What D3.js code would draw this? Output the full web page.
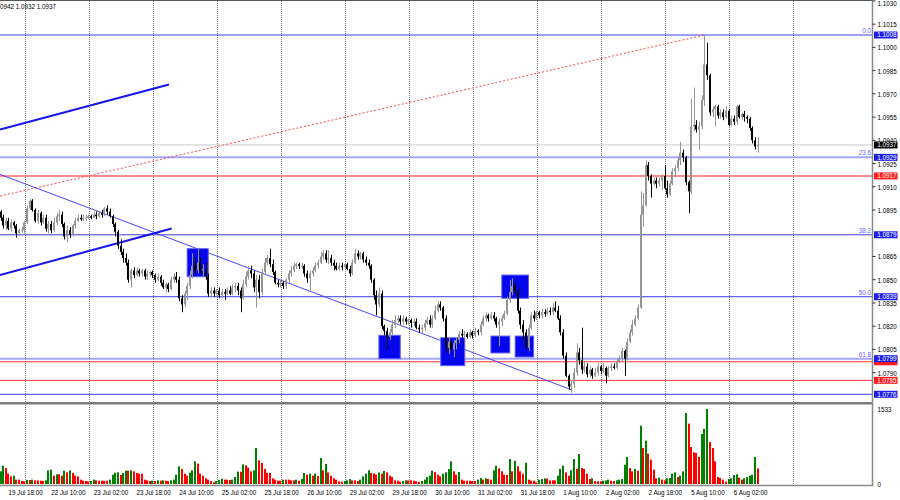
<!DOCTYPE html>
<html><head><meta charset="utf-8">
<script src="https://cdn.jsdelivr.net/npm/d3@7"></script>
<style>html,body{margin:0;padding:0;background:#fff;overflow:hidden}svg{display:block}text{font-family:"Liberation Sans",Arial,sans-serif}</style>
</head><body>
<svg id="c" width="900" height="500"></svg>
<script>
// ---- data (EURUSD H1, 19 Jul 15:00 .. 6 Aug 11:00) ----
const open=[1.0894,1.0890,1.0885,1.0888,1.0883,1.0887,1.0885,1.0880,1.0882,1.0882,
1.0887,1.0896,1.0901,1.0895,1.0888,1.0893,1.0887,1.0890,1.0883,1.0886,
1.0882,1.0887,1.0891,1.0892,1.0886,1.0878,1.0882,1.0879,1.0885,1.0888,
1.0890,1.0889,1.0890,1.0890,1.0891,1.0890,1.0892,1.0891,1.0893,1.0892,
1.0896,1.0894,1.0891,1.0886,1.0881,1.0872,1.0868,1.0864,1.0861,1.0850,
1.0856,1.0853,1.0856,1.0854,1.0856,1.0852,1.0854,1.0855,1.0853,1.0850,
1.0852,1.0848,1.0845,1.0847,1.0844,1.0850,1.0852,1.0850,1.0838,1.0834,
1.0841,1.0846,1.0853,1.0859,1.0856,1.0861,1.0856,1.0857,1.0852,1.0841,
1.0843,1.0841,1.0843,1.0840,1.0842,1.0841,1.0843,1.0841,1.0845,1.0846,
1.0843,1.0838,1.0847,1.0852,1.0856,1.0854,1.0845,1.0850,1.0842,1.0855,
1.0861,1.0864,1.0860,1.0855,1.0848,1.0847,1.0848,1.0846,1.0850,1.0854,
1.0856,1.0859,1.0860,1.0859,1.0859,1.0854,1.0851,1.0854,1.0856,1.0859,
1.0861,1.0865,1.0867,1.0863,1.0864,1.0861,1.0859,1.0857,1.0859,1.0858,
1.0860,1.0857,1.0854,1.0861,1.0867,1.0865,1.0867,1.0863,1.0861,1.0859,
1.0850,1.0840,1.0834,1.0841,1.0820,1.0817,1.0813,1.0816,1.0821,1.0824,
1.0825,1.0823,1.0825,1.0823,1.0824,1.0822,1.0823,1.0819,1.0818,1.0819,
1.0822,1.0824,1.0821,1.0825,1.0830,1.0834,1.0832,1.0825,1.0806,1.0810,
1.0805,1.0809,1.0811,1.0815,1.0814,1.0815,1.0813,1.0816,1.0814,1.0817,
1.0816,1.0821,1.0825,1.0827,1.0825,1.0827,1.0825,1.0821,1.0823,1.0825,
1.0828,1.0837,1.0842,1.0846,1.0843,1.0830,1.0821,1.0816,1.0806,1.0819,
1.0827,1.0825,1.0829,1.0827,1.0829,1.0828,1.0830,1.0829,1.0832,1.0830,
1.0825,1.0816,1.0801,1.0788,1.0781,1.0783,1.0790,1.0803,1.0798,1.0792,
1.0794,1.0789,1.0792,1.0788,1.0790,1.0794,1.0791,1.0793,1.0788,1.0793,
1.0794,1.0793,1.0797,1.0799,1.0804,1.0799,1.0810,1.0816,1.0821,1.0825,
1.0832,1.0892,1.0898,1.0924,1.0917,1.0912,1.0914,1.0912,1.0914,1.0917,
1.0909,1.0905,1.0912,1.0920,1.0922,1.0927,1.0932,1.0929,1.0913,1.0907,
1.0949,1.0950,1.0947,1.0949,1.0966,1.0989,1.0982,1.0958,1.0960,1.0962,
1.0956,1.0958,1.0955,1.0959,1.0950,1.0954,1.0952,1.0962,1.0955,1.0957,
1.0955,1.0954,1.0948,1.0940,1.0936];
const high=[1.0895,1.0892,1.0890,1.0890,1.0889,1.0888,1.0886,1.0883,1.0884,1.0888,
1.0898,1.0902,1.0902,1.0896,1.0895,1.0894,1.0892,1.0892,1.0888,1.0888,
1.0890,1.0893,1.0895,1.0894,1.0887,1.0885,1.0884,1.0886,1.0890,1.0892,
1.0892,1.0892,1.0892,1.0892,1.0892,1.0894,1.0894,1.0894,1.0895,1.0897,
1.0898,1.0896,1.0892,1.0887,1.0882,1.0876,1.0870,1.0867,1.0863,1.0857,
1.0858,1.0858,1.0857,1.0857,1.0857,1.0856,1.0856,1.0856,1.0854,1.0854,
1.0853,1.0850,1.0848,1.0848,1.0852,1.0854,1.0855,1.0852,1.0840,1.0843,
1.0848,1.0856,1.0867,1.0864,1.0870,1.0864,1.0860,1.0861,1.0854,1.0845,
1.0845,1.0844,1.0845,1.0844,1.0844,1.0845,1.0846,1.0847,1.0848,1.0848,
1.0845,1.0850,1.0855,1.0859,1.0859,1.0856,1.0853,1.0853,1.0857,1.0864,
1.0866,1.0870,1.0863,1.0856,1.0850,1.0850,1.0849,1.0851,1.0856,1.0859,
1.0861,1.0861,1.0861,1.0861,1.0860,1.0856,1.0856,1.0858,1.0861,1.0863,
1.0868,1.0869,1.0869,1.0869,1.0866,1.0863,1.0861,1.0861,1.0861,1.0861,
1.0861,1.0859,1.0863,1.0870,1.0869,1.0868,1.0868,1.0865,1.0863,1.0860,
1.0851,1.0843,1.0845,1.0843,1.0821,1.0819,1.0818,1.0824,1.0827,1.0827,
1.0827,1.0827,1.0826,1.0825,1.0825,1.0825,1.0825,1.0821,1.0821,1.0824,
1.0826,1.0827,1.0827,1.0833,1.0836,1.0836,1.0833,1.0827,1.0813,1.0812,
1.0811,1.0813,1.0817,1.0818,1.0817,1.0816,1.0818,1.0817,1.0819,1.0818,
1.0823,1.0827,1.0829,1.0828,1.0829,1.0829,1.0826,1.0825,1.0827,1.0830,
1.0839,1.0850,1.0851,1.0848,1.0845,1.0832,1.0824,1.0818,1.0821,1.0829,
1.0830,1.0830,1.0830,1.0831,1.0831,1.0832,1.0832,1.0835,1.0836,1.0833,
1.0827,1.0818,1.0803,1.0789,1.0785,1.0793,1.0809,1.0806,1.0819,1.0797,
1.0796,1.0794,1.0793,1.0793,1.0796,1.0795,1.0796,1.0794,1.0794,1.0796,
1.0796,1.0799,1.0801,1.0806,1.0805,1.0812,1.0818,1.0824,1.0827,1.0834,
1.0907,1.0906,1.0927,1.0926,1.0918,1.0916,1.0916,1.0916,1.0918,1.0924,
1.0914,1.0914,1.0922,1.0924,1.0929,1.0939,1.0934,1.0930,1.0914,1.0967,
1.0974,1.0953,1.0952,1.0969,1.1008,1.1003,1.0983,1.0962,1.0963,1.0963,
1.0960,1.0960,1.0962,1.0960,1.0956,1.0956,1.0963,1.0963,1.0958,1.0959,
1.0956,1.0955,1.0949,1.0942,1.0942];
const low=[1.0888,1.0883,1.0882,1.0882,1.0881,1.0883,1.0877,1.0878,1.0880,1.0880,
1.0886,1.0895,1.0894,1.0887,1.0886,1.0885,1.0886,1.0881,1.0880,1.0880,
1.0881,1.0885,1.0888,1.0884,1.0876,1.0874,1.0877,1.0878,1.0883,1.0887,
1.0888,1.0888,1.0888,1.0889,1.0889,1.0890,1.0889,1.0890,1.0890,1.0891,
1.0892,1.0890,1.0884,1.0878,1.0870,1.0866,1.0861,1.0859,1.0848,1.0845,
1.0851,1.0852,1.0852,1.0852,1.0850,1.0850,1.0852,1.0851,1.0848,1.0849,
1.0846,1.0844,1.0842,1.0842,1.0843,1.0848,1.0848,1.0836,1.0829,1.0832,
1.0837,1.0844,1.0851,1.0854,1.0854,1.0854,1.0852,1.0850,1.0839,1.0839,
1.0839,1.0840,1.0838,1.0838,1.0837,1.0840,1.0840,1.0840,1.0842,1.0840,
1.0829,1.0837,1.0845,1.0850,1.0851,1.0842,1.0832,1.0838,1.0840,1.0853,
1.0859,1.0858,1.0853,1.0847,1.0845,1.0845,1.0844,1.0844,1.0848,1.0852,
1.0855,1.0857,1.0857,1.0857,1.0852,1.0848,1.0843,1.0852,1.0855,1.0857,
1.0860,1.0863,1.0861,1.0860,1.0859,1.0856,1.0856,1.0856,1.0856,1.0857,
1.0856,1.0852,1.0853,1.0860,1.0863,1.0863,1.0861,1.0859,1.0857,1.0848,
1.0837,1.0827,1.0832,1.0818,1.0814,1.0805,1.0811,1.0814,1.0819,1.0822,
1.0821,1.0821,1.0821,1.0821,1.0819,1.0820,1.0818,1.0816,1.0815,1.0817,
1.0821,1.0819,1.0819,1.0824,1.0829,1.0830,1.0823,1.0803,1.0802,1.0803,
1.0800,1.0805,1.0809,1.0812,1.0812,1.0812,1.0812,1.0812,1.0813,1.0814,
1.0814,1.0820,1.0823,1.0823,1.0824,1.0823,1.0819,1.0807,1.0820,1.0824,
1.0827,1.0835,1.0840,1.0841,1.0828,1.0818,1.0811,1.0805,1.0804,1.0818,
1.0823,1.0824,1.0825,1.0825,1.0826,1.0827,1.0827,1.0827,1.0829,1.0824,
1.0814,1.0799,1.0787,1.0779,1.0777,1.0780,1.0788,1.0795,1.0789,1.0790,
1.0787,1.0787,1.0786,1.0787,1.0788,1.0789,1.0790,1.0783,1.0787,1.0791,
1.0792,1.0792,1.0796,1.0797,1.0788,1.0798,1.0809,1.0814,1.0820,1.0824,
1.0831,1.0884,1.0897,1.0914,1.0903,1.0911,1.0909,1.0910,1.0908,1.0908,
1.0903,1.0904,1.0911,1.0916,1.0920,1.0924,1.0926,1.0911,1.0893,1.0905,
1.0946,1.0945,1.0934,1.0947,1.0962,1.0979,1.0956,1.0955,1.0949,1.0954,
1.0954,1.0953,1.0954,1.0949,1.0949,1.0950,1.0950,1.0954,1.0953,1.0952,
1.0951,1.0946,1.0938,1.0934,1.0932];
const close=[1.0890,1.0885,1.0888,1.0883,1.0887,1.0885,1.0880,1.0882,1.0882,1.0887,
1.0896,1.0901,1.0895,1.0888,1.0893,1.0887,1.0890,1.0883,1.0886,1.0882,
1.0887,1.0891,1.0892,1.0886,1.0878,1.0882,1.0879,1.0885,1.0888,1.0890,
1.0889,1.0890,1.0890,1.0891,1.0890,1.0892,1.0891,1.0893,1.0892,1.0896,
1.0894,1.0891,1.0886,1.0881,1.0872,1.0868,1.0864,1.0861,1.0850,1.0856,
1.0853,1.0856,1.0854,1.0856,1.0852,1.0854,1.0855,1.0853,1.0850,1.0852,
1.0848,1.0845,1.0847,1.0844,1.0850,1.0852,1.0850,1.0838,1.0834,1.0841,
1.0846,1.0853,1.0859,1.0856,1.0861,1.0856,1.0857,1.0852,1.0841,1.0843,
1.0841,1.0843,1.0840,1.0842,1.0841,1.0843,1.0841,1.0845,1.0846,1.0843,
1.0838,1.0847,1.0852,1.0856,1.0854,1.0845,1.0850,1.0842,1.0855,1.0861,
1.0864,1.0860,1.0855,1.0848,1.0847,1.0848,1.0846,1.0850,1.0854,1.0856,
1.0859,1.0860,1.0859,1.0859,1.0854,1.0851,1.0854,1.0856,1.0859,1.0861,
1.0865,1.0867,1.0863,1.0864,1.0861,1.0859,1.0857,1.0859,1.0858,1.0860,
1.0857,1.0854,1.0861,1.0867,1.0865,1.0867,1.0863,1.0861,1.0859,1.0850,
1.0840,1.0834,1.0841,1.0820,1.0817,1.0813,1.0816,1.0821,1.0824,1.0825,
1.0823,1.0825,1.0823,1.0824,1.0822,1.0823,1.0819,1.0818,1.0819,1.0822,
1.0824,1.0821,1.0825,1.0830,1.0834,1.0832,1.0825,1.0806,1.0810,1.0805,
1.0809,1.0811,1.0815,1.0814,1.0815,1.0813,1.0816,1.0814,1.0817,1.0816,
1.0821,1.0825,1.0827,1.0825,1.0827,1.0825,1.0821,1.0823,1.0825,1.0828,
1.0837,1.0842,1.0846,1.0843,1.0830,1.0821,1.0816,1.0806,1.0819,1.0827,
1.0825,1.0829,1.0827,1.0829,1.0828,1.0830,1.0829,1.0832,1.0830,1.0825,
1.0816,1.0801,1.0788,1.0781,1.0783,1.0790,1.0803,1.0798,1.0792,1.0794,
1.0789,1.0792,1.0788,1.0790,1.0794,1.0791,1.0793,1.0788,1.0793,1.0794,
1.0793,1.0797,1.0799,1.0804,1.0799,1.0810,1.0816,1.0821,1.0825,1.0832,
1.0892,1.0898,1.0924,1.0917,1.0912,1.0914,1.0912,1.0914,1.0917,1.0909,
1.0905,1.0912,1.0920,1.0922,1.0927,1.0932,1.0929,1.0913,1.0907,1.0949,
1.0950,1.0947,1.0949,1.0966,1.0989,1.0982,1.0958,1.0960,1.0962,1.0956,
1.0958,1.0955,1.0959,1.0950,1.0954,1.0952,1.0962,1.0955,1.0957,1.0955,
1.0954,1.0948,1.0940,1.0936,1.0937];
const volume=[259,375,327,211,157,170,89,89,61,55,
82,82,89,75,75,68,61,75,279,293,
170,198,198,170,273,238,279,225,170,157,
89,68,61,55,61,89,75,68,68,68,
68,89,191,232,238,184,225,273,273,279,
259,225,211,211,89,75,61,68,61,75,
68,75,68,61,75,89,191,361,307,211,
170,232,279,463,416,211,170,116,89,61,
34,61,82,109,89,89,82,89,143,252,
252,402,382,334,259,279,736,484,429,307,
225,225,116,89,68,68,89,89,89,75,
75,89,68,102,225,191,211,170,211,164,
531,279,409,238,170,116,89,55,48,61,
75,102,75,75,61,89,157,211,279,225,
218,191,238,211,266,238,170,143,75,68,
48,61,75,75,75,68,55,48,61,89,
143,170,273,245,191,157,211,238,307,463,
259,191,245,89,68,68,68,61,61,89,
123,89,116,102,89,279,375,320,259,191,
184,511,259,477,361,259,211,436,89,68,
68,34,89,102,116,109,75,75,75,170,
307,375,238,170,279,511,307,613,327,307,
211,102,116,61,55,55,68,75,89,68,
61,75,89,102,395,552,327,259,307,273,
1192,736,886,620,497,293,116,129,89,75,
116,123,211,238,143,170,259,1451,1233,756,
647,634,552,1022,1124,1533,858,736,463,143,
123,89,48,102,116,184,198,129,89,116,
143,170,191,552,320];

const timeLabels=["19 Jul 18:00","22 Jul 10:00","23 Jul 02:00","23 Jul 18:00","24 Jul 10:00","25 Jul 02:00",
"25 Jul 18:00","26 Jul 10:00","29 Jul 02:00","29 Jul 18:00","30 Jul 10:00","31 Jul 02:00","31 Jul 18:00",
"1 Aug 10:00","2 Aug 02:00","2 Aug 18:00","5 Aug 10:00","6 Aug 02:00"];
const firstLabelBar=3, labelStep=16, gridFirstBar=9.2, gridStep=24, gridCount=13;
// visible price-scale labels (1.0880 and 1.0775 sit fully under the price tags)
const priceTicks=[1.1030,1.1015,1.1000,1.0985,1.0970,1.0955,1.0940,1.0925,1.0910,1.0895,1.0865,1.0850,1.0835,1.0820,1.0805,1.0790];
const volumeTicks=[0,1533];
const headerText="0942 1.0932 1.0937";
const currentPrice=1.0937;

const levelPrices=[1.1008,1.0929,1.0917,1.0879,1.0839,1.0799,1.0797,1.0785,1.0776];
const levelKinds=["fib","light","pink","fib","fib","light","red","red","fib"];
const fibPrices=[1.1008,1.0929,1.0879,1.0839,1.0799];
const fibNames=["0.0","23.6","38.2","50.0","61.8"];
const tagPrices=[1.1008,1.0937,1.0929,1.0917,1.0879,1.0839,1.0797,1.0799,1.0785,1.0776];
const tagKinds=["blue","black","blue","red","blue","blue","red","blue","red","blue"];
const tagShowText=[true,true,true,true,true,true,false,true,true,true];

const boxBars=[[70.0,77.9],[141.9,149.9],[165.1,174.1],[183.9,191.0],[193.0,199.9],[188.0,198.0]];
const boxPrices=[[1.08700,1.08519],[1.08141,1.07990],[1.08125,1.07945],[1.08136,1.08027],[1.08136,1.08001],[1.08530,1.08380]];

const thinTrend=[[-0.19,1.0918],[214,1.0779]];
const dottedTrend=[[-0.19,1.0904],[264,1.1008]];
const channelUpper=[[-0.19,1.0947],[63.2,1.0976]];
const channelLower=[[-0.19,1.0853],[64.2,1.0883]];

// ---- scales ----
const N=close.length;
const svg=d3.select("#c");
const axisX=872.5;
const x=d3.scaleLinear().domain([0,N-1]).range([0.5,0.5+(N-1)*(64/24)]);
const y=d3.scaleLinear().domain([1.0776,1.1008]).range([394.3,35]);
const vy=d3.scaleLinear().domain([0,1533]).range([484,409]);
const fs=6.3;

svg.append("rect").attr("width",900).attr("height",500).attr("fill","#fff");
svg.append("defs").append("clipPath").attr("id","mainClip").append("rect")
  .attr("x",0).attr("y",0).attr("width",axisX).attr("height",401);

// grid
const gridG=svg.append("g");
d3.range(gridCount).forEach(k=>{
  const gx=Math.round(x(gridFirstBar+gridStep*k))+0.5;
  gridG.append("line").attr("x1",gx).attr("x2",gx).attr("y1",1).attr("y2",485)
    .attr("stroke","#7a7a7a").attr("stroke-dasharray","1,1").attr("stroke-width",1);
});

const main=svg.append("g").attr("clip-path","url(#mainClip)");

// current price line
main.append("line").attr("x1",0).attr("x2",axisX).attr("y1",y(currentPrice)).attr("y2",y(currentPrice))
  .attr("stroke","#c8c8c8").attr("stroke-width",1);

// horizontal levels
const levelStyle={fib:["#3c3ce8",1],light:["#a4a4ff",2],pink:["#ff8c8c",2],red:["#ff3030",1]};
levelPrices.forEach((p,k)=>{
  const st=levelStyle[levelKinds[k]];
  main.append("line").attr("x1",0).attr("x2",axisX).attr("y1",y(p)).attr("y2",y(p))
    .attr("stroke",st[0]).attr("stroke-width",st[1]);
});
// fib labels
fibPrices.forEach((p,k)=>{
  svg.append("text").attr("x",871).attr("y",y(p)-2).attr("text-anchor","end")
    .attr("font-size",fs).attr("fill","#6464ff").text(fibNames[k]);
});

// trend lines
const seg=(pts)=>d3.line().x(d=>x(d[0])).y(d=>y(d[1]))(pts);
main.append("path").attr("d",seg(dottedTrend)).attr("fill","none").attr("stroke","#ff4a4a")
  .attr("stroke-width",1).attr("stroke-dasharray","2,2");
main.append("path").attr("d",seg(thinTrend)).attr("fill","none").attr("stroke","#4646ff").attr("stroke-width",1);
main.append("path").attr("d",seg(channelUpper)).attr("fill","none").attr("stroke","#1414f0").attr("stroke-width",2);
main.append("path").attr("d",seg(channelLower)).attr("fill","none").attr("stroke","#1414f0").attr("stroke-width",2);

// boxes
boxBars.forEach((b,k)=>{
  const p=boxPrices[k];
  main.append("rect").attr("x",x(b[0])).attr("y",y(p[0])).attr("width",x(b[1])-x(b[0]))
    .attr("height",y(p[1])-y(p[0])).attr("fill","#0606ec").attr("stroke","#5c5cff").attr("stroke-width",1);
});

// candles
const bars=d3.range(N).map(i=>({i,o:open[i],h:high[i],l:low[i],c:close[i],v:volume[i]}));
const bull="#959595", bear="#000";
main.selectAll("line.wick").data(bars).enter().append("line")
  .attr("x1",d=>Math.round(x(d.i))+0.5).attr("x2",d=>Math.round(x(d.i))+0.5)
  .attr("y1",d=>y(d.h)).attr("y2",d=>y(d.l))
  .attr("stroke",d=>d.c>=d.o?bull:bear).attr("stroke-width",1);
main.selectAll("rect.body").data(bars).enter().append("rect")
  .attr("x",d=>Math.round(x(d.i))-1).attr("width",2)
  .attr("y",d=>y(Math.max(d.o,d.c)))
  .attr("height",d=>Math.max(1,Math.abs(y(d.o)-y(d.c))))
  .attr("fill",d=>d.c>=d.o?bull:bear);

// volumes (green when volume rises vs previous bar)
svg.selectAll("rect.vol").data(bars).enter().append("rect")
  .attr("x",d=>Math.round(x(d.i))-1).attr("width",2)
  .attr("y",d=>vy(d.v)).attr("height",d=>vy(0)-vy(d.v))
  .attr("fill",d=>(d.i===0||d.v>volume[d.i-1])?"#008000":"#ff0000");

// frames
svg.append("line").attr("x1",0).attr("x2",axisX).attr("y1",0.5).attr("y2",0.5).attr("stroke","#555").attr("stroke-width",1);
svg.append("rect").attr("x",0).attr("y",402).attr("width",axisX).attr("height",2.5).attr("fill","#7a7a7a");
svg.append("line").attr("x1",0).attr("x2",axisX+0.75).attr("y1",485.5).attr("y2",485.5).attr("stroke","#8a8a8a").attr("stroke-width",1.5);
svg.append("line").attr("x1",axisX).attr("x2",axisX).attr("y1",0).attr("y2",486).attr("stroke","#8a8a8a").attr("stroke-width",1.5);

// price axis
priceTicks.forEach(p=>{
  const ty=y(p);
  svg.append("line").attr("x1",axisX).attr("x2",axisX+3).attr("y1",ty).attr("y2",ty).attr("stroke","#000").attr("stroke-width",0.8);
  svg.append("text").attr("x",877.5).attr("y",Math.max(ty+3,6)).attr("font-size",fs).attr("fill","#000").text(p.toFixed(4));
});
// volume axis
volumeTicks.forEach(v=>{
  svg.append("text").attr("x",877.5).attr("y",vy(v)+2.5).attr("font-size",fs).attr("fill","#000").text(String(v));
});
// price tags
const tagColor={blue:"#1e1ee6",black:"#000",red:"#ff1c1c"};
tagPrices.forEach((p,k)=>{
  const ty=y(p);
  svg.append("rect").attr("x",874).attr("y",ty-3.5).attr("width",23.5).attr("height",7).attr("fill",tagColor[tagKinds[k]]);
  if(tagShowText[k]) svg.append("text").attr("x",877.3).attr("y",ty+2.3).attr("font-size",fs).attr("fill","#fff").text(p.toFixed(4));
});

// time axis
timeLabels.forEach((t,j)=>{
  svg.append("text").attr("x",x(firstLabelBar+labelStep*j)).attr("y",495).attr("font-size",fs).attr("fill","#000").text(t);
});

// header
svg.append("text").attr("x",0).attr("y",9).attr("font-size",fs).attr("fill","#000").text(headerText);
</script>
</body></html>
